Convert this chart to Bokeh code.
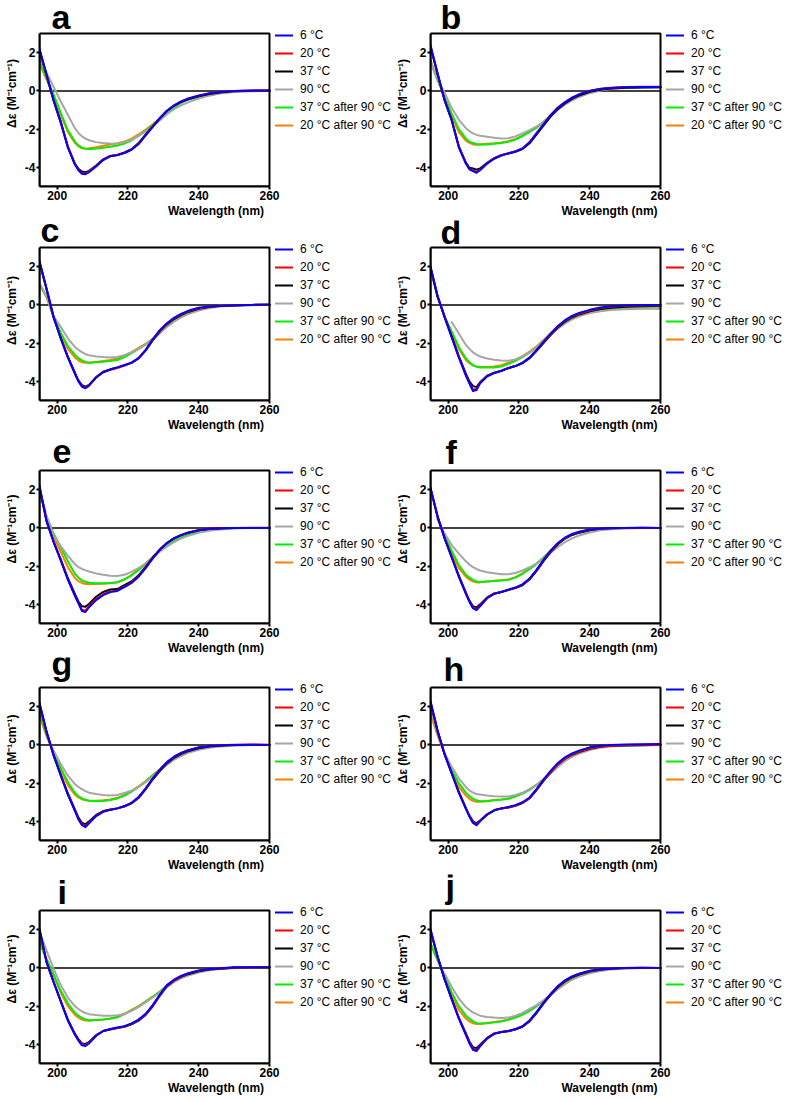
import numpy as np
from bokeh.plotting import figure
from bokeh.models import Range1d, FixedTicker, Label, Legend, LegendItem, BoxAnnotation
from bokeh.layouts import row, column
from bokeh.embed import file_html
from bokeh.resources import INLINE

nan = float("nan")

# wavelength nodes (nm)
WL = [195, 197, 199, 201, 203, 205, 206, 207, 208, 209, 211, 213, 215, 217, 219,
      221, 223, 225, 227, 229, 231, 233, 235, 237, 240, 243, 246, 250, 255, 260]

SERIES = ["6 °C", "20 °C", "37 °C", "90 °C", "37 °C after 90 °C", "20 °C after 90 °C"]
COLORS = ["#0000FF", "#FF0000", "#000000", "#A6A6A6", "#00EE00", "#FF8000"]
X_MIN, X_MAX = 195, 260
Y_MIN, Y_MAX = -5, 3
X_TICKS = [200, 220, 240, 260]
Y_TICKS = [-4, -2, 0, 2]
X_LABEL = "Wavelength (nm)"
Y_LABEL = "Δε (M⁻¹cm⁻¹)"

# ---- panel a ----
a_6 = [2.20, 0.85, -0.50, -1.65, -2.95, -3.85, -4.15, -4.33, -4.36, -4.25, -3.95, -3.62, -3.42, -3.36, -3.25, -3.08, -2.78, -2.33, -1.88, -1.45, -1.05, -0.77, -0.56, -0.41, -0.25, -0.13, -0.06, 0.00, 0.02, 0.02]
a_20 = [2.15, 0.82, -0.52, -1.66, -2.93, -3.83, -4.12, -4.30, -4.32, -4.22, -3.93, -3.60, -3.40, -3.35, -3.24, -3.07, -2.77, -2.32, -1.87, -1.44, -1.04, -0.76, -0.55, -0.40, -0.24, -0.12, -0.05, 0.00, 0.02, 0.02]
a_37 = [2.10, 0.80, -0.50, -1.60, -2.90, -3.80, -4.08, -4.22, -4.25, -4.18, -3.90, -3.58, -3.40, -3.35, -3.22, -3.05, -2.73, -2.28, -1.84, -1.42, -1.04, -0.78, -0.58, -0.44, -0.28, -0.16, -0.08, -0.02, 0.00, 0.01]
a_90 = [1.75, 0.95, 0.20, -0.55, -1.25, -1.95, -2.20, -2.38, -2.50, -2.58, -2.68, -2.72, -2.75, -2.76, -2.68, -2.55, -2.35, -2.12, -1.85, -1.55, -1.22, -0.96, -0.76, -0.60, -0.40, -0.25, -0.14, -0.06, -0.02, 0.00]
a_37r = [1.55, 0.65, -0.20, -1.15, -2.05, -2.65, -2.85, -2.97, -3.02, -3.04, -3.02, -2.97, -2.92, -2.86, -2.75, -2.58, -2.35, -2.08, -1.80, -1.48, -1.15, -0.86, -0.63, -0.46, -0.29, -0.16, -0.08, -0.03, 0.00, 0.00]
a_20r = [1.40, 0.60, -0.25, -1.25, -2.15, -2.72, -2.90, -3.00, -3.02, -3.00, -2.95, -2.87, -2.80, -2.74, -2.65, -2.50, -2.28, -2.02, -1.75, -1.45, -1.12, -0.84, -0.61, -0.44, -0.27, -0.14, -0.07, -0.02, 0.00, 0.00]

# ---- panel b ----
b_6 = [2.35, 0.90, -0.50, -1.55, -2.95, -3.80, -4.10, -4.20, -4.28, -4.15, -3.80, -3.55, -3.38, -3.27, -3.17, -3.02, -2.70, -2.22, -1.75, -1.27, -0.88, -0.60, -0.36, -0.19, 0.00, 0.10, 0.15, 0.19, 0.20, 0.20]
b_20 = [2.40, 0.92, -0.48, -1.52, -2.92, -3.78, -4.08, -4.17, -4.22, -4.12, -3.78, -3.53, -3.36, -3.26, -3.16, -3.00, -2.68, -2.20, -1.73, -1.26, -0.87, -0.59, -0.35, -0.18, 0.01, 0.11, 0.16, 0.20, 0.21, 0.21]
b_37 = [2.30, 0.88, -0.50, -1.52, -2.90, -3.75, -4.02, -4.06, -4.12, -4.06, -3.76, -3.52, -3.36, -3.27, -3.18, -3.04, -2.74, -2.27, -1.80, -1.33, -0.94, -0.66, -0.42, -0.24, -0.05, 0.06, 0.12, 0.16, 0.18, 0.19]
b_90 = [1.50, 0.60, -0.10, -0.90, -1.50, -1.95, -2.10, -2.22, -2.30, -2.35, -2.40, -2.45, -2.49, -2.48, -2.38, -2.22, -2.05, -1.85, -1.62, -1.32, -1.00, -0.72, -0.50, -0.33, -0.12, 0.02, 0.10, 0.15, 0.17, 0.18]
b_37r = [1.50, 0.55, -0.30, -1.20, -2.00, -2.50, -2.65, -2.73, -2.78, -2.80, -2.80, -2.77, -2.73, -2.66, -2.55, -2.36, -2.15, -1.92, -1.62, -1.28, -0.92, -0.63, -0.40, -0.22, -0.03, 0.08, 0.14, 0.18, 0.20, 0.20]
b_20r = [1.60, 0.60, -0.35, -1.30, -2.15, -2.60, -2.72, -2.80, -2.82, -2.80, -2.77, -2.74, -2.70, -2.63, -2.52, -2.34, -2.13, -1.90, -1.60, -1.26, -0.90, -0.62, -0.39, -0.21, -0.02, 0.09, 0.15, 0.18, 0.20, 0.20]

# ---- panel c ----
c_6 = [2.30, 0.85, -0.65, -1.75, -2.75, -3.60, -4.00, -4.28, -4.36, -4.22, -3.80, -3.52, -3.38, -3.27, -3.15, -3.02, -2.78, -2.35, -1.80, -1.32, -0.96, -0.68, -0.47, -0.31, -0.15, -0.08, -0.04, -0.02, 0.00, 0.02]
c_20 = [2.25, 0.83, -0.66, -1.74, -2.73, -3.58, -3.98, -4.25, -4.32, -4.20, -3.79, -3.52, -3.40, -3.30, -3.17, -3.03, -2.79, -2.37, -1.83, -1.35, -0.99, -0.71, -0.50, -0.34, -0.18, -0.10, -0.05, -0.02, 0.00, 0.01]
c_37 = [2.20, 0.80, -0.65, -1.72, -2.70, -3.55, -3.95, -4.20, -4.28, -4.18, -3.78, -3.50, -3.37, -3.27, -3.16, -3.03, -2.80, -2.39, -1.86, -1.38, -1.02, -0.74, -0.53, -0.37, -0.20, -0.11, -0.06, -0.03, -0.01, 0.00]
c_90 = [1.15, 0.45, -0.60, -1.15, -1.75, -2.20, -2.35, -2.47, -2.58, -2.63, -2.70, -2.73, -2.75, -2.73, -2.63, -2.48, -2.30, -2.08, -1.82, -1.50, -1.15, -0.88, -0.65, -0.48, -0.30, -0.17, -0.09, -0.04, -0.02, 0.00]
c_37r = [1.10, 0.42, -0.62, -1.45, -2.15, -2.62, -2.78, -2.90, -2.98, -3.02, -3.00, -2.97, -2.94, -2.88, -2.73, -2.52, -2.30, -2.08, -1.80, -1.45, -1.08, -0.80, -0.57, -0.40, -0.22, -0.11, -0.05, -0.02, 0.00, 0.01]
c_20r = [1.05, 0.40, -0.65, -1.55, -2.30, -2.75, -2.90, -3.00, -3.03, -3.02, -2.98, -2.93, -2.88, -2.80, -2.66, -2.47, -2.25, -2.03, -1.76, -1.43, -1.07, -0.79, -0.56, -0.39, -0.21, -0.10, -0.05, -0.02, 0.00, 0.01]

# ---- panel d ----
d_6 = [2.00, 0.45, -0.65, -1.70, -2.75, -3.70, -4.12, -4.50, -4.45, -4.10, -3.74, -3.57, -3.46, -3.31, -3.20, -3.03, -2.76, -2.35, -1.92, -1.50, -1.10, -0.80, -0.58, -0.42, -0.26, -0.14, -0.07, -0.03, -0.01, 0.00]
d_20 = [2.00, 0.47, -0.63, -1.68, -2.72, -3.66, -4.08, -4.43, -4.40, -4.08, -3.73, -3.56, -3.45, -3.30, -3.19, -3.02, -2.76, -2.36, -1.94, -1.53, -1.13, -0.83, -0.61, -0.45, -0.29, -0.17, -0.10, -0.05, -0.03, -0.02]
d_37 = [1.95, 0.45, -0.62, -1.65, -2.68, -3.60, -4.00, -4.25, -4.30, -4.05, -3.70, -3.55, -3.44, -3.30, -3.20, -3.05, -2.79, -2.40, -1.98, -1.57, -1.18, -0.88, -0.66, -0.50, -0.34, -0.22, -0.15, -0.10, -0.07, -0.05]
d_90 = [nan, nan, nan, -0.90, -1.50, -2.10, -2.30, -2.48, -2.60, -2.70, -2.80, -2.87, -2.91, -2.92, -2.85, -2.70, -2.48, -2.20, -1.88, -1.55, -1.25, -0.98, -0.76, -0.60, -0.43, -0.33, -0.27, -0.23, -0.20, -0.20]
d_37r = [1.90, 0.40, -0.60, -1.40, -2.20, -2.80, -3.00, -3.15, -3.23, -3.27, -3.28, -3.27, -3.22, -3.10, -2.93, -2.73, -2.50, -2.22, -1.88, -1.50, -1.18, -0.90, -0.68, -0.52, -0.37, -0.27, -0.22, -0.19, -0.17, -0.17]
d_20r = [1.90, 0.40, -0.65, -1.50, -2.30, -2.88, -3.05, -3.17, -3.22, -3.25, -3.25, -3.22, -3.15, -3.03, -2.88, -2.68, -2.44, -2.16, -1.82, -1.46, -1.13, -0.86, -0.64, -0.48, -0.32, -0.20, -0.13, -0.08, -0.05, -0.03]

# ---- panel e ----
e_6 = [2.15, 0.35, -0.75, -1.70, -2.70, -3.55, -3.95, -4.35, -4.40, -4.15, -3.78, -3.52, -3.36, -3.30, -3.10, -2.88, -2.55, -2.10, -1.60, -1.15, -0.80, -0.55, -0.38, -0.25, -0.12, -0.05, -0.02, 0.00, 0.00, 0.00]
e_20 = [2.20, 0.37, -0.74, -1.68, -2.68, -3.52, -3.92, -4.28, -4.33, -4.08, -3.72, -3.47, -3.32, -3.27, -3.07, -2.86, -2.53, -2.08, -1.59, -1.14, -0.79, -0.54, -0.37, -0.24, -0.11, -0.05, -0.02, 0.00, 0.01, 0.01]
e_37 = [2.10, 0.35, -0.72, -1.65, -2.62, -3.45, -3.85, -4.10, -4.12, -3.98, -3.60, -3.35, -3.22, -3.20, -3.00, -2.80, -2.48, -2.03, -1.55, -1.12, -0.79, -0.55, -0.38, -0.26, -0.13, -0.06, -0.03, -0.01, 0.00, 0.00]
e_90 = [2.05, 0.60, -0.40, -0.95, -1.45, -1.90, -2.05, -2.15, -2.22, -2.28, -2.38, -2.45, -2.50, -2.52, -2.45, -2.30, -2.10, -1.85, -1.55, -1.25, -0.98, -0.75, -0.56, -0.42, -0.26, -0.15, -0.08, -0.03, 0.00, 0.00]
e_37r = [2.05, 0.60, -0.30, -1.00, -1.75, -2.40, -2.60, -2.75, -2.82, -2.87, -2.90, -2.90, -2.88, -2.84, -2.70, -2.48, -2.20, -1.88, -1.54, -1.20, -0.92, -0.67, -0.48, -0.34, -0.18, -0.08, -0.04, -0.01, 0.00, 0.00]
e_20r = [2.00, 0.50, -0.45, -1.25, -2.05, -2.62, -2.78, -2.88, -2.93, -2.94, -2.93, -2.92, -2.90, -2.85, -2.70, -2.47, -2.18, -1.86, -1.52, -1.19, -0.91, -0.66, -0.47, -0.33, -0.17, -0.08, -0.04, -0.01, 0.00, 0.00]

# ---- panel f ----
f_6 = [2.10, 0.60, -0.55, -1.55, -2.55, -3.45, -3.87, -4.20, -4.30, -4.10, -3.68, -3.45, -3.35, -3.23, -3.12, -2.95, -2.65, -2.18, -1.66, -1.18, -0.79, -0.51, -0.32, -0.20, -0.09, -0.03, -0.01, 0.00, 0.01, 0.00]
f_20 = [2.10, 0.60, -0.55, -1.54, -2.53, -3.42, -3.84, -4.16, -4.25, -4.06, -3.66, -3.44, -3.35, -3.24, -3.13, -2.97, -2.67, -2.21, -1.69, -1.21, -0.82, -0.53, -0.34, -0.22, -0.10, -0.04, -0.02, 0.00, 0.01, 0.00]
f_37 = [2.05, 0.58, -0.55, -1.52, -2.50, -3.38, -3.80, -4.10, -4.16, -4.00, -3.64, -3.43, -3.35, -3.25, -3.15, -3.00, -2.70, -2.25, -1.73, -1.25, -0.86, -0.56, -0.37, -0.25, -0.12, -0.05, -0.02, -0.01, 0.00, 0.00]
f_90 = [nan, 0.50, -0.30, -0.90, -1.35, -1.75, -1.92, -2.05, -2.15, -2.23, -2.32, -2.37, -2.42, -2.43, -2.36, -2.23, -2.06, -1.86, -1.60, -1.30, -1.00, -0.75, -0.55, -0.40, -0.24, -0.13, -0.07, -0.03, -0.01, 0.00]
f_37r = [nan, 0.50, -0.40, -1.20, -1.95, -2.45, -2.60, -2.72, -2.80, -2.83, -2.80, -2.78, -2.75, -2.72, -2.60, -2.40, -2.15, -1.88, -1.55, -1.20, -0.84, -0.56, -0.37, -0.25, -0.12, -0.05, -0.02, 0.00, 0.00, 0.00]
f_20r = [nan, 0.45, -0.45, -1.35, -2.10, -2.55, -2.70, -2.80, -2.85, -2.85, -2.80, -2.77, -2.74, -2.70, -2.58, -2.38, -2.13, -1.86, -1.53, -1.18, -0.83, -0.55, -0.36, -0.24, -0.11, -0.05, -0.02, 0.00, 0.00, 0.00]

# ---- panel g ----
g_6 = [2.20, 0.70, -0.55, -1.60, -2.60, -3.45, -3.90, -4.20, -4.30, -4.10, -3.72, -3.50, -3.40, -3.32, -3.20, -3.03, -2.73, -2.27, -1.75, -1.30, -0.90, -0.62, -0.42, -0.28, -0.14, -0.06, -0.02, 0.00, 0.01, 0.00]
g_20 = [2.15, 0.68, -0.55, -1.58, -2.57, -3.42, -3.86, -4.15, -4.25, -4.06, -3.70, -3.48, -3.39, -3.32, -3.21, -3.04, -2.75, -2.29, -1.77, -1.32, -0.92, -0.63, -0.43, -0.29, -0.14, -0.06, -0.02, 0.01, 0.02, 0.01]
g_37 = [2.10, 0.66, -0.55, -1.55, -2.53, -3.38, -3.80, -4.08, -4.15, -4.00, -3.66, -3.46, -3.38, -3.32, -3.22, -3.06, -2.78, -2.33, -1.81, -1.37, -0.97, -0.68, -0.48, -0.33, -0.18, -0.09, -0.04, -0.01, 0.00, 0.00]
g_90 = [nan, 0.45, -0.30, -1.00, -1.60, -2.05, -2.20, -2.32, -2.42, -2.50, -2.57, -2.62, -2.65, -2.62, -2.52, -2.40, -2.20, -1.95, -1.65, -1.35, -1.05, -0.78, -0.58, -0.42, -0.26, -0.15, -0.08, -0.04, -0.01, 0.00]
g_37r = [1.70, 0.55, -0.35, -1.20, -1.95, -2.50, -2.68, -2.80, -2.87, -2.92, -2.95, -2.93, -2.88, -2.80, -2.65, -2.45, -2.20, -1.92, -1.60, -1.30, -0.95, -0.66, -0.45, -0.30, -0.15, -0.07, -0.03, -0.01, 0.00, 0.00]
g_20r = [1.50, 0.45, -0.40, -1.30, -2.10, -2.60, -2.75, -2.85, -2.90, -2.92, -2.92, -2.90, -2.85, -2.77, -2.62, -2.42, -2.17, -1.90, -1.58, -1.28, -0.93, -0.65, -0.44, -0.29, -0.14, -0.07, -0.03, -0.01, 0.00, 0.00]

# ---- panel h ----
h_6 = [2.30, 0.75, -0.50, -1.50, -2.50, -3.35, -3.75, -4.08, -4.20, -4.00, -3.65, -3.42, -3.32, -3.25, -3.15, -3.00, -2.75, -2.30, -1.80, -1.35, -0.95, -0.65, -0.45, -0.30, -0.13, -0.05, 0.00, 0.02, 0.03, 0.05]
h_20 = [2.25, 0.73, -0.50, -1.48, -2.48, -3.32, -3.72, -4.04, -4.15, -3.97, -3.64, -3.42, -3.33, -3.27, -3.17, -3.03, -2.78, -2.34, -1.85, -1.40, -1.00, -0.70, -0.50, -0.35, -0.18, -0.09, -0.04, -0.01, 0.00, 0.00]
h_37 = [2.20, 0.72, -0.50, -1.47, -2.45, -3.30, -3.70, -4.00, -4.10, -3.95, -3.63, -3.42, -3.33, -3.27, -3.18, -3.04, -2.80, -2.36, -1.87, -1.42, -1.02, -0.72, -0.52, -0.37, -0.20, -0.10, -0.05, -0.03, -0.02, -0.01]
h_90 = [1.85, 0.60, -0.45, -1.15, -1.75, -2.20, -2.38, -2.50, -2.57, -2.60, -2.65, -2.68, -2.70, -2.70, -2.62, -2.50, -2.32, -2.10, -1.82, -1.50, -1.15, -0.85, -0.62, -0.45, -0.27, -0.15, -0.08, -0.04, -0.02, 0.00]
h_37r = [1.85, 0.60, -0.45, -1.30, -2.00, -2.50, -2.68, -2.82, -2.90, -2.95, -2.95, -2.90, -2.87, -2.82, -2.70, -2.55, -2.35, -2.10, -1.80, -1.45, -1.05, -0.72, -0.50, -0.33, -0.16, -0.07, -0.02, 0.00, 0.01, 0.02]
h_20r = [1.60, 0.50, -0.50, -1.45, -2.20, -2.65, -2.82, -2.93, -2.97, -2.97, -2.93, -2.88, -2.85, -2.80, -2.68, -2.53, -2.33, -2.08, -1.78, -1.43, -1.04, -0.71, -0.49, -0.32, -0.15, -0.07, -0.02, 0.00, 0.01, 0.02]

# ---- panel i ----
i_6 = [2.05, 0.30, -0.75, -1.75, -2.75, -3.50, -3.80, -4.05, -4.08, -3.95, -3.55, -3.30, -3.20, -3.12, -3.05, -2.90, -2.70, -2.40, -1.95, -1.40, -0.90, -0.62, -0.42, -0.28, -0.14, -0.06, -0.02, 0.03, 0.03, 0.03]
i_20 = [2.00, 0.30, -0.75, -1.74, -2.72, -3.47, -3.77, -4.00, -4.03, -3.92, -3.54, -3.30, -3.21, -3.14, -3.07, -2.93, -2.73, -2.43, -1.98, -1.43, -0.93, -0.64, -0.44, -0.30, -0.15, -0.07, -0.03, 0.02, 0.03, 0.03]
i_37 = [1.95, 0.30, -0.74, -1.72, -2.70, -3.44, -3.72, -3.95, -3.98, -3.88, -3.52, -3.30, -3.22, -3.15, -3.08, -2.95, -2.76, -2.46, -2.01, -1.46, -0.96, -0.67, -0.47, -0.33, -0.18, -0.09, -0.04, 0.01, 0.02, 0.02]
i_90 = [1.90, 0.90, -0.05, -0.90, -1.55, -2.00, -2.15, -2.28, -2.36, -2.42, -2.47, -2.50, -2.50, -2.48, -2.42, -2.25, -2.05, -1.80, -1.55, -1.30, -1.02, -0.75, -0.55, -0.40, -0.24, -0.13, -0.06, -0.02, 0.00, 0.02]
i_37r = [1.30, 0.45, -0.35, -1.20, -1.85, -2.35, -2.50, -2.62, -2.70, -2.74, -2.72, -2.70, -2.66, -2.58, -2.42, -2.22, -2.02, -1.77, -1.52, -1.25, -0.95, -0.68, -0.47, -0.32, -0.17, -0.08, -0.03, 0.01, 0.02, 0.02]
i_20r = [1.40, 0.45, -0.40, -1.30, -2.00, -2.45, -2.60, -2.70, -2.75, -2.77, -2.73, -2.70, -2.64, -2.55, -2.40, -2.20, -2.00, -1.75, -1.50, -1.24, -0.94, -0.67, -0.46, -0.31, -0.16, -0.07, -0.03, 0.01, 0.02, 0.02]

# ---- panel j ----
j_6 = [2.00, 0.60, -0.60, -1.65, -2.65, -3.50, -3.95, -4.28, -4.35, -4.10, -3.70, -3.45, -3.35, -3.30, -3.20, -3.05, -2.75, -2.30, -1.80, -1.35, -0.95, -0.65, -0.45, -0.30, -0.15, -0.07, -0.03, 0.00, 0.01, 0.00]
j_20 = [2.00, 0.60, -0.60, -1.63, -2.62, -3.47, -3.90, -4.22, -4.30, -4.06, -3.68, -3.44, -3.35, -3.30, -3.21, -3.06, -2.77, -2.32, -1.82, -1.37, -0.97, -0.67, -0.46, -0.31, -0.16, -0.08, -0.03, 0.00, 0.01, 0.00]
j_37 = [1.95, 0.58, -0.60, -1.62, -2.60, -3.43, -3.85, -4.15, -4.20, -4.02, -3.66, -3.43, -3.35, -3.31, -3.22, -3.08, -2.80, -2.36, -1.86, -1.41, -1.01, -0.71, -0.50, -0.35, -0.19, -0.10, -0.05, -0.01, 0.00, 0.00]
j_90 = [nan, nan, -0.30, -1.00, -1.60, -2.05, -2.20, -2.33, -2.42, -2.50, -2.57, -2.60, -2.62, -2.60, -2.50, -2.35, -2.15, -1.95, -1.70, -1.42, -1.12, -0.85, -0.62, -0.46, -0.28, -0.16, -0.09, -0.04, -0.01, 0.00]
j_37r = [1.25, 0.40, -0.40, -1.30, -2.00, -2.50, -2.67, -2.80, -2.88, -2.92, -2.90, -2.85, -2.80, -2.72, -2.60, -2.45, -2.25, -2.00, -1.72, -1.40, -1.05, -0.75, -0.52, -0.36, -0.20, -0.10, -0.05, -0.02, 0.00, 0.00]
j_20r = [1.30, 0.40, -0.45, -1.45, -2.20, -2.65, -2.80, -2.90, -2.93, -2.92, -2.88, -2.83, -2.78, -2.70, -2.58, -2.43, -2.23, -1.98, -1.70, -1.38, -1.03, -0.74, -0.51, -0.35, -0.19, -0.09, -0.04, -0.01, 0.00, 0.00]

PANELS = [
    ("a", [a_6, a_20, a_37, a_90, a_37r, a_20r]),
    ("b", [b_6, b_20, b_37, b_90, b_37r, b_20r]),
    ("c", [c_6, c_20, c_37, c_90, c_37r, c_20r]),
    ("d", [d_6, d_20, d_37, d_90, d_37r, d_20r]),
    ("e", [e_6, e_20, e_37, e_90, e_37r, e_20r]),
    ("f", [f_6, f_20, f_37, f_90, f_37r, f_20r]),
    ("g", [g_6, g_20, g_37, g_90, g_37r, g_20r]),
    ("h", [h_6, h_20, h_37, h_90, h_37r, h_20r]),
    ("i", [i_6, i_20, i_37, i_90, i_37r, i_20r]),
    ("j", [j_6, j_20, j_37, j_90, j_37r, j_20r]),
]

# ---- layout / style ----
FONT = "Liberation Sans"
BOX_W, BOX_H = 230, 153          # pixel size of the axes box
LEFT = [39, 37]                  # y-axis area per column
RIGHT = [123, 128]               # legend area per column
TOPS = [33, 27, 36, 30, 36]      # letter area per row
BOTTOMS = [34, 34, 34, 34, 36]   # x-axis area per row
LETTER_DX = {"a": 12, "b": 10, "c": 1, "d": 10, "e": 13, "f": 15, "g": 12, "h": 13, "i": 18, "j": 15}
LETTER_DY = {"a": 3, "b": 3, "c": 4, "d": 2, "e": 5, "f": 5, "g": 11, "h": 5, "i": 5, "j": 11}
LETTER_RAISE = 14                # correction for how the label baseline is placed


def make_panel(idx, letter, series):
    r_i, c_i = divmod(idx, 2)
    xpp = (X_MAX - X_MIN) / BOX_W
    ypp = (Y_MAX - Y_MIN) / BOX_H
    fw = BOX_W + RIGHT[c_i]
    fh = BOX_H + TOPS[r_i]
    p = figure(frame_width=fw, frame_height=fh,
               x_range=Range1d(X_MIN, X_MIN + fw * xpp),
               y_range=Range1d(Y_MIN, Y_MIN + fh * ypp),
               output_backend="svg", toolbar_location=None,
               min_border_left=LEFT[c_i], min_border_right=0,
               min_border_top=0, min_border_bottom=BOTTOMS[r_i])
    p.xgrid.visible = False
    p.ygrid.visible = False
    p.outline_line_color = None
    p.background_fill_color = "white"
    p.border_fill_color = "white"

    for ax, ticks, bnds in ((p.xaxis, X_TICKS, (X_MIN, X_MAX)), (p.yaxis, Y_TICKS, (Y_MIN, Y_MAX))):
        ax.bounds = bnds
        ax.ticker = FixedTicker(ticks=ticks)
        ax.major_label_overrides = {t: str(t) for t in ticks}
        ax.minor_tick_line_color = None
        ax.major_tick_in = 0
        ax.major_tick_out = 3
        ax.major_tick_line_width = 2
        ax.major_tick_line_color = "black"
        ax.axis_line_width = 2
        ax.axis_line_color = "black"
        ax.major_label_text_font = FONT
        ax.major_label_text_font_size = "12px"
        ax.major_label_text_font_style = "bold"
        ax.major_label_text_color = "black"
        ax.major_label_standoff = 1
        ax.axis_label_text_font = FONT
        ax.axis_label_text_font_size = "12px"
        ax.axis_label_text_font_style = "bold"
        ax.axis_label_text_color = "black"
        ax.axis_label_standoff = 1
    p.yaxis.axis_label_standoff = 3
    p.xaxis.axis_label = X_LABEL
    p.yaxis.axis_label = Y_LABEL

    # axes box
    p.add_layout(BoxAnnotation(left=X_MIN, right=X_MAX, bottom=Y_MIN, top=Y_MAX,
                               fill_alpha=0, line_color="black", line_alpha=1.0, line_width=2))
    # zero line across the box
    p.line([X_MIN, X_MAX], [0, 0], line_color="black", line_width=1.5)

    wl = np.array(WL, dtype=float)
    renderers = [None] * len(series)
    for k in reversed(range(len(series))):
        y = np.array(series[k], dtype=float)
        renderers[k] = p.line(wl, y, line_color=COLORS[k], line_width=2,
                              line_join="round", line_cap="round")

    legend = Legend(items=[LegendItem(label=SERIES[k], renderers=[renderers[k]]) for k in range(len(series))],
                    location=(BOX_W + 6, 52.5), padding=0, margin=0, spacing=0,
                    glyph_width=18, glyph_height=18, label_height=18, label_standoff=7,
                    label_text_font=FONT, label_text_font_size="12px", label_text_color="black",
                    border_line_alpha=0, background_fill_alpha=0)
    p.add_layout(legend)

    p.add_layout(Label(x=X_MIN + LETTER_DX[letter] * xpp,
                       y=Y_MAX + (LETTER_DY[letter] + LETTER_RAISE) * ypp,
                       text=letter, text_font=FONT, text_font_size="34px", text_font_style="bold",
                       text_color="black", text_align="left", text_baseline="alphabetic"))
    return p


figs = [make_panel(i, letter, series) for i, (letter, series) in enumerate(PANELS)]
rows = [row(figs[2 * r], figs[2 * r + 1], spacing=0) for r in range(5)]
layout = column(*rows, spacing=0)

open("out.html", "w").write(file_html(layout, INLINE))
